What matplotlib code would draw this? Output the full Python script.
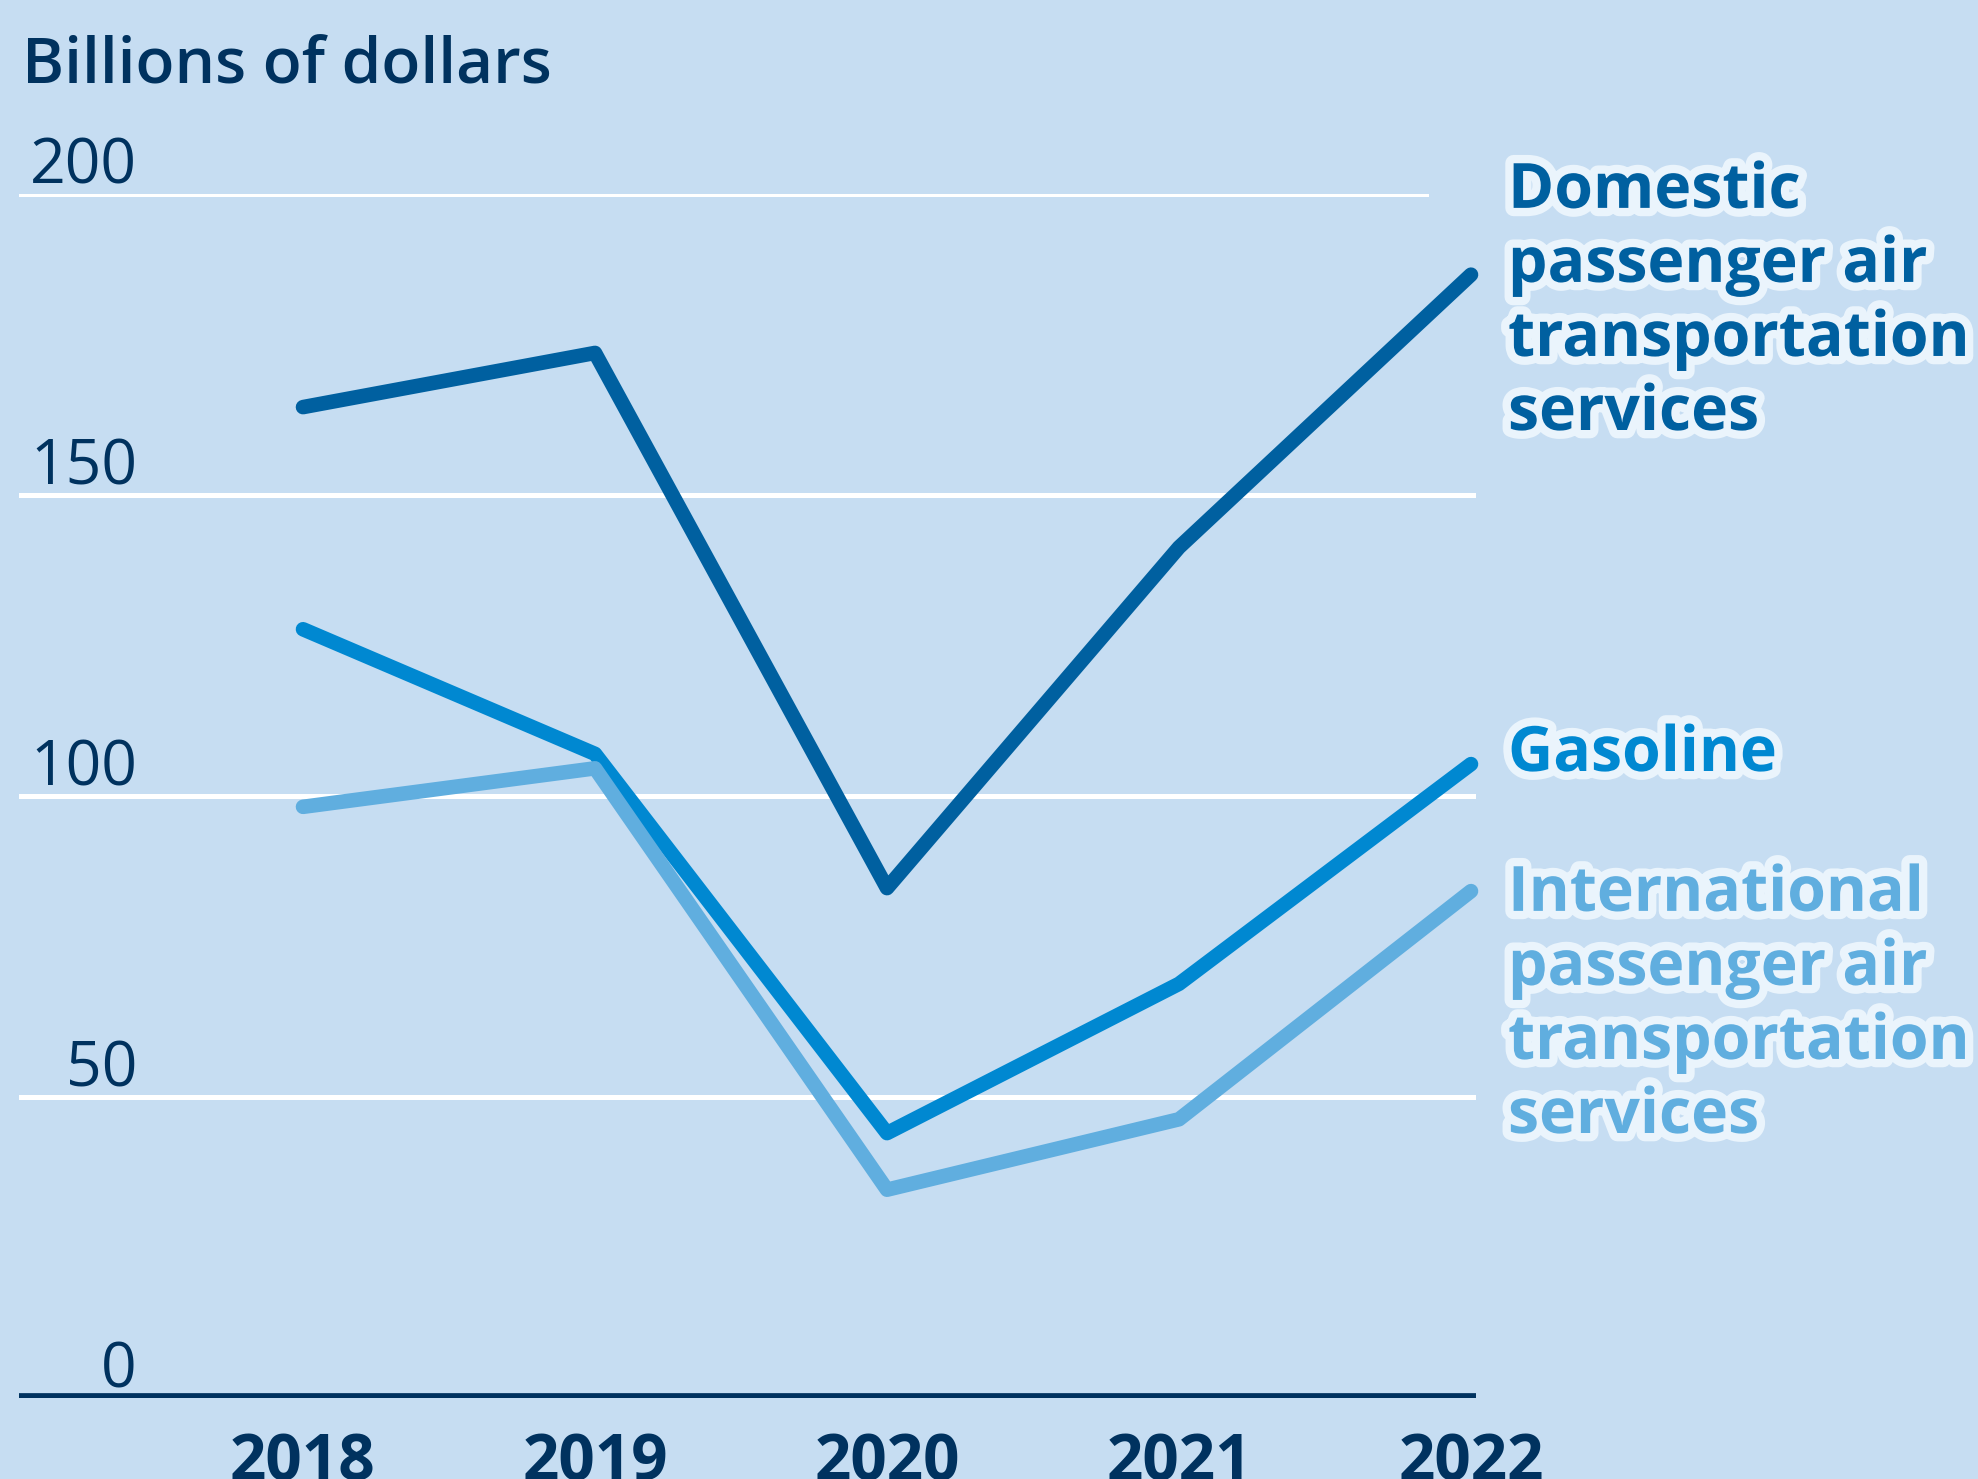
import matplotlib
matplotlib.use("Agg")
import matplotlib.pyplot as plt
import matplotlib.patheffects as pe

years = [2018, 2019, 2020, 2021, 2022]
year_labels = ["2018", "2019", "2020", "2021", "2022"]
domestic = [164.6, 173.6, 84.7, 141.3, 186.6]
gasoline = [127.7, 107.0, 44.0, 68.8, 105.3]
international = [98.2, 104.6, 34.6, 46.3, 84.2]
series_names = ["Domestic\npassenger air\ntransportation\nservices",
                "Gasoline",
                "International\npassenger air\ntransportation\nservices"]
y_ticks = [0, 50, 100, 150, 200]
y_tick_labels = ["0", "50", "100", "150", "200"]

BG = "#C6DDF2"
NAVY = "#00325F"
colors = ["#0060A0", "#0088D1", "#60AEDF"]
HALO = "#EAF4FC"

plt.rcParams['font.family'] = ['Open Sans', 'DejaVu Sans']

W, H = 1978, 1479
fig = plt.figure(figsize=(W / 100, H / 100), dpi=100, facecolor=BG)
left_px, right_px, top_px, bot_px = 19, 1476, 194, 1398
ax = fig.add_axes([left_px / W, 1 - bot_px / H, (right_px - left_px) / W, (bot_px - top_px) / H])
ax.set_facecolor(BG)
ax.set_ylim(0, 200)
x0 = 2018 - (303 - left_px) / 292.0
x1 = 2022 + (right_px - 1471) / 292.0
ax.set_xlim(x0, x1)
for s in ax.spines.values():
    s.set_visible(False)

# gridlines
for t in y_ticks[1:]:
    xmax = (1426 - left_px) / (right_px - left_px) if t == 200 else 1.0
    ax.axhline(t, xmin=0, xmax=xmax, color="white", lw=3.6, zorder=1)
ax.axhline(0, color=NAVY, lw=7.0, zorder=5, solid_capstyle="butt")

# y tick labels
lab_x = (137 - left_px) / (right_px - left_px)
for t, lab in zip(y_ticks, y_tick_labels):
    ax.text(lab_x, t + 1.7, lab, transform=ax.get_yaxis_transform(),
            ha="right", va="baseline", fontsize=45, color=NAVY)

ax.set_yticks([])
ax.set_xticks(years)
ax.set_xticklabels(year_labels, fontsize=46, fontweight="bold", color=NAVY)
ax.tick_params(axis="x", length=0, pad=24)

for vals, c in zip([domestic, gasoline, international], colors):
    ax.plot(years, vals, color=c, lw=10.5, solid_capstyle="round",
            solid_joinstyle="round", clip_on=False, zorder=3)

# series labels (y = baseline of the last line)
label_y_px = [430, 771, 1133]
for name, c, ypx in zip(series_names, colors, label_y_px):
    fig.text(1508 / W, 1 - ypx / H, name, ha="left", va="baseline",
             fontsize=45, fontweight="bold", color=c, linespacing=1.23,
             path_effects=[pe.withStroke(linewidth=12, foreground=HALO)])

fig.text(22 / W, 1 - 84 / H, "Billions of dollars", ha="left", va="baseline",
         fontsize=46, fontweight="semibold", color=NAVY)

fig.savefig("out.png", dpi=100, facecolor=BG)
